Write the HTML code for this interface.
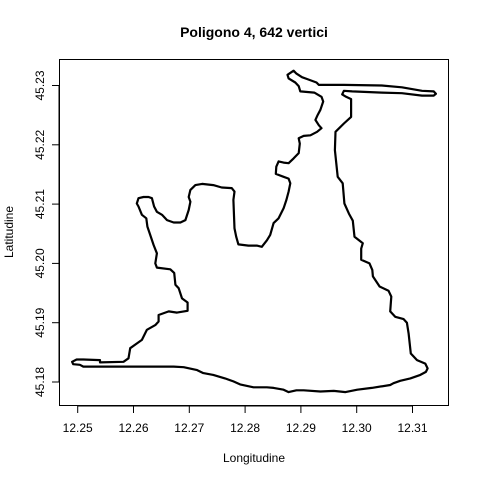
<!DOCTYPE html>
<html><head><meta charset="utf-8"><style>
html,body{margin:0;padding:0;background:#fff}
svg{display:block;font-family:"Liberation Sans",Arial,sans-serif}
</style></head><body>
<svg id="chart" width="480" height="480" viewBox="0 0 480 480">
<rect width="480" height="480" fill="#fff"/>
<text x="254" y="37" text-anchor="middle" font-size="14" font-weight="bold">Poligono 4, 642 vertici</text>
<text x="254" y="462" text-anchor="middle" font-size="12">Longitudine</text>
<text transform="translate(13,232) rotate(-90)" text-anchor="middle" font-size="12">Latitudine</text>
<rect x="59.5" y="59.5" width="389" height="346" fill="none" stroke="#000" stroke-width="1"/>
<g id="axes"></g>
<g id="marks"></g>
</svg>
<script>
const xTicks=[12.25,12.26,12.27,12.28,12.29,12.30,12.31];
const xTickLabels=["12.25","12.26","12.27","12.28","12.29","12.30","12.31"];
const yTicks=[45.18,45.19,45.20,45.21,45.22,45.23];
const yTickLabels=["45.18","45.19","45.20","45.21","45.22","45.23"];
const lon=[12.2887,12.2892,12.2902,12.2911,12.2928,12.2932,12.2959,12.2977,12.3045,12.3081,12.3117,12.3138,12.3142,12.3138,12.3117,12.3081,12.3045,12.2992,12.2977,12.2974,12.2981,12.2990,12.2990,12.2977,12.2962,12.2961,12.2966,12.2975,12.2978,12.2986,12.2993,12.2996,12.3007,12.3011,12.3008,12.3008,12.3023,12.3028,12.3029,12.3041,12.3057,12.3062,12.3060,12.3069,12.3084,12.3090,12.3093,12.3097,12.3108,12.3123,12.3127,12.3124,12.3114,12.3096,12.3078,12.3066,12.3060,12.3027,12.3001,12.2980,12.2959,12.2935,12.2905,12.2892,12.2878,12.2869,12.2851,12.2839,12.2815,12.2791,12.2779,12.2764,12.2743,12.2725,12.2714,12.2690,12.2672,12.2612,12.2552,12.2510,12.2504,12.2492,12.2490,12.2498,12.2510,12.2540,12.2540,12.2582,12.2591,12.2594,12.2606,12.2615,12.2624,12.2639,12.2645,12.2645,12.2663,12.2678,12.2697,12.2697,12.2687,12.2681,12.2675,12.2673,12.2666,12.2642,12.2639,12.2642,12.2636,12.2630,12.2625,12.2623,12.2615,12.2609,12.2606,12.2609,12.2618,12.2627,12.2633,12.2637,12.2642,12.2651,12.2660,12.2672,12.2684,12.2693,12.2699,12.2702,12.2699,12.2702,12.2711,12.2723,12.2743,12.2758,12.2776,12.2781,12.2779,12.2781,12.2784,12.2788,12.2806,12.2821,12.2830,12.2839,12.2845,12.2851,12.2860,12.2869,12.2874,12.2878,12.2881,12.2878,12.2869,12.2855,12.2856,12.2860,12.2869,12.2878,12.2887,12.2896,12.2898,12.2896,12.2905,12.2917,12.2929,12.2937,12.2932,12.2926,12.2930,12.2935,12.2940,12.2937,12.2924,12.2899,12.2896,12.2890,12.2878,12.2876];
const lat=[45.2325,45.2320,45.2314,45.2311,45.2305,45.2301,45.2301,45.2301,45.2300,45.2297,45.2291,45.2290,45.2286,45.2283,45.2283,45.2287,45.2288,45.2290,45.2291,45.2285,45.2281,45.2277,45.2247,45.2236,45.2222,45.2191,45.2146,45.2135,45.2101,45.2084,45.2072,45.2045,45.2037,45.2034,45.2025,45.2006,45.2000,45.1989,45.1978,45.1961,45.1954,45.1944,45.1919,45.1910,45.1906,45.1900,45.1882,45.1848,45.1837,45.1831,45.1823,45.1817,45.1812,45.1806,45.1802,45.1798,45.1795,45.1790,45.1787,45.1783,45.1785,45.1784,45.1786,45.1786,45.1783,45.1787,45.1790,45.1791,45.1791,45.1796,45.1801,45.1806,45.1812,45.1815,45.1820,45.1825,45.1826,45.1826,45.1826,45.1826,45.1829,45.1830,45.1834,45.1838,45.1838,45.1837,45.1833,45.1834,45.1840,45.1857,45.1865,45.1871,45.1888,45.1896,45.1902,45.1913,45.1919,45.1917,45.1920,45.1934,45.1941,45.1958,45.1964,45.1984,45.1990,45.1993,45.2000,45.2017,45.2031,45.2048,45.2062,45.2076,45.2082,45.2096,45.2101,45.2110,45.2112,45.2112,45.2110,45.2096,45.2087,45.2082,45.2073,45.2069,45.2069,45.2073,45.2090,45.2104,45.2112,45.2124,45.2132,45.2134,45.2132,45.2128,45.2127,45.2121,45.2107,45.2059,45.2045,45.2032,45.2030,45.2030,45.2028,45.2039,45.2048,45.2068,45.2076,45.2093,45.2107,45.2121,45.2135,45.2143,45.2146,45.2151,45.2163,45.2172,45.2170,45.2169,45.2177,45.2186,45.2202,45.2211,45.2215,45.2216,45.2222,45.2228,45.2233,45.2242,45.2250,45.2259,45.2273,45.2281,45.2288,45.2290,45.2299,45.2305,45.2312,45.2318];

const NS="http://www.w3.org/2000/svg";
function xs(v){return 77.7+(v-12.25)*5580;}
function ys(v){return 382-(v-45.18)*5930;}
const axes=document.getElementById('axes');
const marks=document.getElementById('marks');
function mk(tag,attrs,parent){const e=document.createElementNS(NS,tag);for(const k in attrs)e.setAttribute(k,attrs[k]);parent.appendChild(e);return e;}

const xl=mk('line',{x1:xs(xTicks[0]),x2:xs(xTicks[xTicks.length-1]),y1:406,y2:406,stroke:'#000'},axes);


xTicks.forEach((t,i)=>{
  const l=mk('line',{x1:xs(t),x2:xs(t),y1:406,y2:413,stroke:'#000'},axes);
  
  
  const tx=mk('text',{x:xs(t),y:432,'text-anchor':'middle','font-size':12},axes);
  tx.textContent=xTickLabels[i];
  
  
});
const yl=mk('line',{x1:59,x2:59,y1:ys(yTicks[0]),y2:ys(yTicks[yTicks.length-1]),stroke:'#000'},axes);


yTicks.forEach((t,i)=>{
  const y=ys(t);
  const l=mk('line',{x1:52,x2:59,y1:y,y2:y,stroke:'#000'},axes);
  
  
  const tx=mk('text',{transform:`translate(44,${y}) rotate(-90)`,'text-anchor':'middle','font-size':12},axes);
  tx.textContent=yTickLabels[i];
  
  
});
const pts=lon.map((v,i)=>xs(v).toFixed(1)+','+ys(lat[i]).toFixed(1)).join(' ');
const poly=mk('polygon',{points:pts,fill:'none',stroke:'#000','stroke-width':2.2,'stroke-linejoin':'round'},marks);


</script>
</body></html>
